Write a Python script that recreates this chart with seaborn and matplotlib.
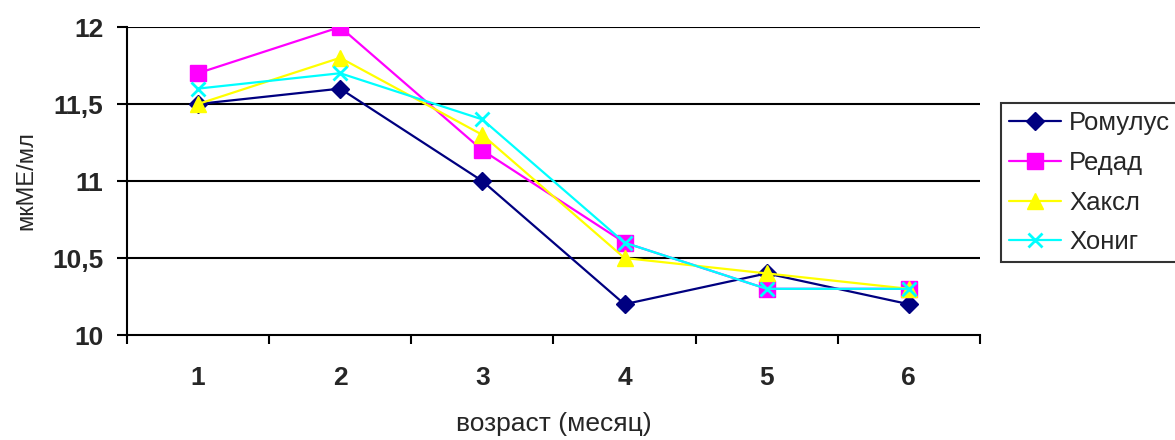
import matplotlib
matplotlib.use("Agg")
import matplotlib.pyplot as plt
import matplotlib.ticker as mticker
import pandas as pd
import seaborn as sns

# Данные
months = [1, 2, 3, 4, 5, 6]
romulus = [11.5, 11.6, 11.0, 10.2, 10.4, 10.2]
redad = [11.7, 12.0, 11.2, 10.6, 10.3, 10.3]
haksl = [11.5, 11.8, 11.3, 10.5, 10.4, 10.3]
honig = [11.6, 11.7, 11.4, 10.6, 10.3, 10.3]
series_names = ["Ромулус", "Редад", "Хаксл", "Хониг"]
y_ticks = [10, 10.5, 11, 11.5, 12]

df = pd.DataFrame({
    "месяц": months * 4,
    "значение": romulus + redad + haksl + honig,
    "линия": sum([[n] * len(months) for n in series_names], []),
})

sns.set_theme(style="white")
plt.rcParams["font.family"] = ["Liberation Sans", "DejaVu Sans"]

fig = plt.figure(figsize=(11.75, 4.4), dpi=100)
ax = fig.add_axes([0.108, 0.2386, 0.726, 0.70])

palette = {"Ромулус": "#000080", "Редад": "#FF00FF", "Хаксл": "#FFFF00", "Хониг": "#00FFFF"}
markers = {"Ромулус": "D", "Редад": "s", "Хаксл": "^", "Хониг": "x"}
msizes = {"Ромулус": 9, "Редад": 11, "Хаксл": 11, "Хониг": 10}

for name in series_names:
    sub = df[df["линия"] == name]
    sns.lineplot(data=sub, x="месяц", y="значение", ax=ax, color=palette[name],
                 marker=markers[name], markersize=msizes[name],
                 markeredgecolor=palette[name], markeredgewidth=2 if name == "Хониг" else 1,
                 linewidth=1.6, label=name, legend=False)

ax.set_xlim(0.5, 6.5)
ax.set_ylim(10, 12)

# Сетка по Y
for y in y_ticks[1:]:
    ax.axhline(y, color="black", linewidth=1.5, zorder=0)

ax.set_yticks(y_ticks)
ax.yaxis.set_major_formatter(mticker.FuncFormatter(lambda v, p: f"{v:g}".replace(".", ",")))
ax.set_xticks(months)
ax.set_xticks([m - 0.5 for m in months] + [6.5], minor=True)
ax.tick_params(axis="x", which="major", length=0, pad=22)
ax.tick_params(axis="x", which="minor", length=6.5, width=1.5, color="black", direction="out", bottom=True)
ax.tick_params(axis="y", length=7, width=1.5, color="black", direction="out", left=True, pad=10)
for lbl in ax.get_xticklabels() + ax.get_yticklabels():
    lbl.set_fontweight("bold")
    lbl.set_fontsize(19)

ax.set_xlabel("возраст (месяц)", fontsize=19)
ax.set_ylabel("мкМЕ/мл", fontsize=17)
ax.xaxis.set_label_coords(0.5, -0.289)
ax.xaxis.label.set_va("center")
ax.yaxis.set_label_coords(-0.118, 0.5)
ax.yaxis.label.set_va("center")

for side in ["top", "right"]:
    ax.spines[side].set_visible(False)
for side in ["left", "bottom"]:
    ax.spines[side].set_color("black")
    ax.spines[side].set_linewidth(1.5)

handles, labels = ax.get_legend_handles_labels()
leg = fig.legend(handles, labels, loc="upper left", bbox_to_anchor=(0.852, 0.766),
                 borderaxespad=0, frameon=True, fancybox=False, fontsize=18.5,
                 handlelength=2.05, borderpad=0.3, labelspacing=0.62, handletextpad=0.3)
leg.get_frame().set_edgecolor("black")
leg.get_frame().set_linewidth(1.5)

plt.savefig("out.png", dpi=100)
plt.close()
